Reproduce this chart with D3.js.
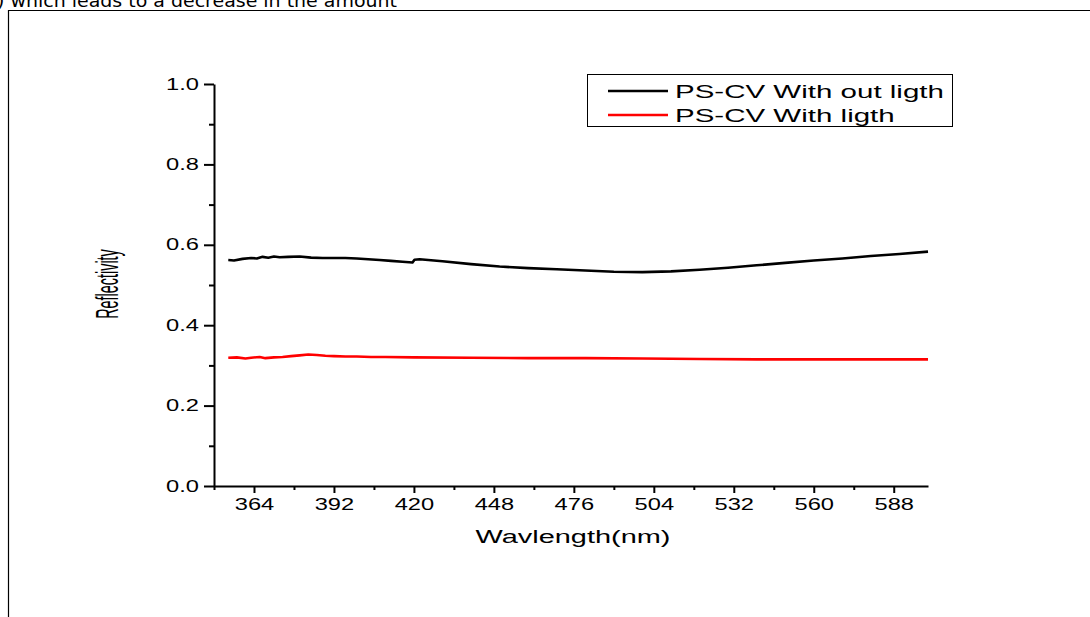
<html lang="en">
<head>
<meta charset="UTF-8">
<title>Reflectivity</title>
<style>
    body { margin: 0; background: #fff; font-family: "Liberation Sans", Arial, sans-serif; }
    svg { display: block; }
</style>
</head>
<body>
<div id="chart"></div>
<script src="https://d3js.org/d3.v7.min.js"></script>
<script>
// wavelength (nm) / reflectivity
const darkNm = [355, 357, 360, 363, 365, 367, 369, 371, 373, 376, 380, 384, 388, 392, 396, 400, 404, 408, 412, 416, 419.5, 420.2, 422, 430, 440, 450, 460, 470, 480, 490, 500, 510, 520, 530, 540, 550, 560, 570, 580, 590, 600];
const darkVal = [0.562, 0.561, 0.565, 0.567, 0.566, 0.570, 0.568, 0.571, 0.569, 0.570, 0.571, 0.568, 0.567, 0.567, 0.567, 0.566, 0.564, 0.562, 0.560, 0.558, 0.556, 0.563, 0.564, 0.559, 0.552, 0.546, 0.542, 0.539, 0.536, 0.533, 0.532, 0.534, 0.538, 0.543, 0.549, 0.555, 0.561, 0.566, 0.572, 0.577, 0.583];
const lightNm = [355, 358, 361, 363, 366, 368, 371, 374, 377, 380, 383, 386, 389, 392, 396, 400, 405, 410, 420, 440, 460, 480, 500, 520, 540, 560, 580, 600];
const lightVal = [0.319, 0.320, 0.317, 0.319, 0.321, 0.318, 0.320, 0.321, 0.323, 0.325, 0.327, 0.326, 0.324, 0.323, 0.322, 0.322, 0.321, 0.321, 0.320, 0.319, 0.318, 0.318, 0.317, 0.316, 0.315, 0.315, 0.315, 0.315];

const seriesNames = ["PS-CV With out ligth", "PS-CV With ligth"];
const seriesColors = ["#000000", "#ff0000"];
const xMajor = [364, 392, 420, 448, 476, 504, 532, 560, 588];
const xMinor = [350, 378, 406, 434, 462, 490, 518, 546, 574];
const yMajor = [0, 0.2, 0.4, 0.6, 0.8, 1.0];
const yMinor = [0.1, 0.3, 0.5, 0.7, 0.9];

const W = 1090, H = 617;
const sx = 1.48; // the picture is stretched sideways

const svg = d3.select('#chart').append('svg')
    .attr('width', W).attr('height', H);

// page bits: clipped text line and frame
svg.append('text')
    .attr('x', -3).attr('y', 7)
    .attr('font-family', 'DejaVu Sans')
    .attr('font-size', 17)
    .attr('textLength', 400).attr('lengthAdjust', 'spacingAndGlyphs')
    .text(') which leads to a decrease in the amount');
svg.append('path')
    .attr('d', `M8.5,${H} V10.5 H${W}`)
    .attr('fill', 'none').attr('stroke', '#000').attr('stroke-width', 1.2);

const x = d3.scaleLinear().domain([350, 600]).range([214, 928]);
const y = d3.scaleLinear().domain([0, 1]).range([486, 84]);

// minor ticks first
svg.append('g')
    .attr('transform', 'translate(0,486)')
    .call(d3.axisBottom(x).tickValues(xMinor).tickSize(4).tickFormat(''))
    .call(g => g.select('.domain').remove());
svg.append('g')
    .attr('transform', 'translate(214,0)')
    .call(d3.axisLeft(y).tickValues(yMinor).tickSize(5).tickFormat(''))
    .call(g => g.select('.domain').remove());

const xAxis = svg.append('g')
    .attr('transform', 'translate(0,486)')
    .call(d3.axisBottom(x).tickValues(xMajor).tickSize(7).tickSizeOuter(0));
xAxis.selectAll('text')
    .attr('y', 13).attr('dy', '0.71em')
    .attr('font-size', 16)
    .attr('font-family', '"Liberation Sans", Arial, sans-serif')
    .attr('fill', '#000')
    .attr('transform', `scale(${sx},1)`);

const yAxis = svg.append('g')
    .attr('transform', 'translate(214,0)')
    .call(d3.axisLeft(y).tickValues(yMajor).tickSize(10).tickSizeOuter(0).tickFormat(d3.format('.1f')));
yAxis.selectAll('text')
    .attr('x', -15 / sx)
    .attr('font-size', 16)
    .attr('font-family', '"Liberation Sans", Arial, sans-serif')
    .attr('fill', '#000')
    .attr('transform', `scale(${sx},1)`);

svg.selectAll('.domain, .tick line').attr('stroke', '#000').attr('stroke-width', 2);

// series
const line = d3.line().x(d => x(d[0])).y(d => y(d[1]));
const series = [d3.zip(darkNm, darkVal), d3.zip(lightNm, lightVal)];
svg.selectAll('.series')
    .data(series)
    .enter().append('path')
    .attr('class', 'series')
    .attr('d', line)
    .attr('fill', 'none')
    .attr('stroke', (d, i) => seriesColors[i])
    .attr('stroke-width', 2.6)
    .attr('stroke-linejoin', 'round');

// axis titles
svg.append('text')
    .attr('x', 573).attr('y', 543)
    .attr('text-anchor', 'middle')
    .attr('font-size', 18)
    .attr('textLength', 195).attr('lengthAdjust', 'spacingAndGlyphs')
    .text('Wavlength(nm)');
svg.append('text')
    .attr('transform', 'translate(118,284) rotate(-90) scale(0.8,1.7)')
    .attr('text-anchor', 'middle')
    .attr('font-size', 18)
    .text('Reflectivity');

// legend
const lg = svg.append('g');
lg.append('rect')
    .attr('x', 587.5).attr('y', 74.5).attr('width', 365).attr('height', 52)
    .attr('fill', '#fff').attr('stroke', '#000').attr('stroke-width', 1);
seriesNames.forEach((name, i) => {
    const ly = 91 + i * 24;
    lg.append('line')
        .attr('x1', 608).attr('x2', 668).attr('y1', ly).attr('y2', ly)
        .attr('stroke', seriesColors[i]).attr('stroke-width', 2.6);
    lg.append('text')
        .attr('x', 675).attr('y', ly + 7)
        .attr('font-size', 18)
        .attr('transform', `translate(${675 - 675 * 1.64},0) scale(1.64,1)`)
        .text(name);
});
</script>
</body>
</html>
